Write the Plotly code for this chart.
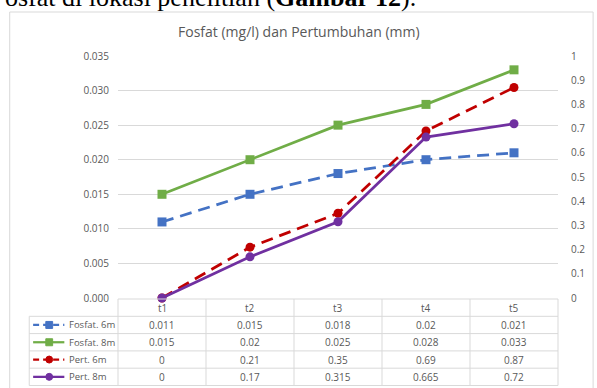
import plotly.graph_objects as go

# ---- data ----
categories = ["t1", "t2", "t3", "t4", "t5"]
fosfat_6m = [0.011, 0.015, 0.018, 0.02, 0.021]
fosfat_8m = [0.015, 0.02, 0.025, 0.028, 0.033]
pert_6m = [0, 0.21, 0.35, 0.69, 0.87]
pert_8m = [0, 0.17, 0.315, 0.665, 0.72]
series_names = ["Fosfat. 6m", "Fosfat. 8m", "Pert. 6m", "Pert. 8m"]
title_text = "Fosfat (mg/l) dan Pertumbuhan (mm)"
doc_text = "osfat di lokasi penelitian (<b>Gambar 12</b>)."

# ---- layout geometry (pixels) ----
W, H = 597, 388
L, R, T, B = 118, 569, 56, 298
def fx(px):
    return (px - L) / (R - L)
def fy(py):
    return (B - py) / (B - T)

BLUE = "#4472C4"
GREEN = "#70AD47"
RED = "#C00000"
PURPLE = "#7030A0"
GREY_TXT = "#595959"
GRID = "#D9D9D9"
FONT = "Open Sans"

fig = go.Figure()
styles = [
    (fosfat_6m, "y", BLUE, "12px,7px", "square"),
    (fosfat_8m, "y", GREEN, "solid", "square"),
    (pert_6m, "y2", RED, "12px,7px", "circle"),
    (pert_8m, "y2", PURPLE, "solid", "circle"),
]
for (vals, ax, col, dash, sym), name in zip(styles, series_names):
    fig.add_trace(go.Scatter(
        x=categories, y=vals, yaxis=ax, name=name, mode="lines+markers",
        line=dict(color=col, width=2.75, dash=dash),
        marker=dict(color=col, size=9, symbol=sym),
        showlegend=False, cliponaxis=False, hoverinfo="skip",
    ))

shapes = []
annotations = []

# chart frame
shapes.append(dict(type="rect", xref="paper", yref="paper",
                   x0=fx(7), x1=fx(605), y0=fy(12), y1=fy(400),
                   line=dict(color=GRID, width=1), layer="below"))

# data table
col_edges = [L + i * (R - L) / len(categories) for i in range(len(categories) + 1)]
row_top = 299
row_h = 17.3
n_rows = len(series_names) + 1
row_lines = [row_top + i * row_h for i in range(n_rows + 1)]
TABLE_LINE = "#D9D9D9"
# horizontal
shapes.append(dict(type="line", xref="paper", yref="paper",
                   x0=fx(L), x1=fx(R), y0=fy(row_lines[0]), y1=fy(row_lines[0]),
                   line=dict(color=TABLE_LINE, width=1)))
for yl in row_lines[1:]:
    shapes.append(dict(type="line", xref="paper", yref="paper",
                       x0=fx(27), x1=fx(R), y0=fy(yl), y1=fy(yl),
                       line=dict(color=TABLE_LINE, width=1)))
# vertical
for xe in col_edges:
    shapes.append(dict(type="line", xref="paper", yref="paper",
                       x0=fx(xe), x1=fx(xe), y0=fy(row_lines[0]), y1=fy(row_lines[-1]),
                       line=dict(color=TABLE_LINE, width=1)))
shapes.append(dict(type="line", xref="paper", yref="paper",
                   x0=fx(27), x1=fx(27), y0=fy(row_lines[1]), y1=fy(row_lines[-1]),
                   line=dict(color=TABLE_LINE, width=1)))

# header
for i, c in enumerate(categories):
    xc = (col_edges[i] + col_edges[i + 1]) / 2
    annotations.append(dict(text=c, xref="paper", yref="paper",
                            x=fx(xc), y=fy((row_lines[0] + row_lines[1]) / 2),
                            xanchor="center", yanchor="middle", showarrow=False,
                            font=dict(family=FONT, size=10, color=GREY_TXT)))
# rows
for r, ((vals, ax, col, dash, sym), name) in enumerate(zip(styles, series_names)):
    yc = (row_lines[r + 1] + row_lines[r + 2]) / 2
    for i, v in enumerate(vals):
        xc = (col_edges[i] + col_edges[i + 1]) / 2
        annotations.append(dict(text="{:g}".format(v), xref="paper", yref="paper",
                                x=fx(xc), y=fy(yc), xanchor="center", yanchor="middle",
                                showarrow=False,
                                font=dict(family=FONT, size=10, color=GREY_TXT)))
    # legend key
    shapes.append(dict(type="line", xref="paper", yref="paper",
                       x0=fx(31), x1=fx(63), y0=fy(yc), y1=fy(yc),
                       line=dict(color=col, width=2.25,
                                 dash="solid" if dash == "solid" else "6px,4px")))
    shapes.append(dict(type="rect" if sym == "square" else "circle",
                       xref="paper", yref="paper",
                       x0=fx(44), x1=fx(51), y0=fy(yc - 3.5), y1=fy(yc + 3.5),
                       line=dict(color=col, width=1), fillcolor=col))
    annotations.append(dict(text=name, xref="paper", yref="paper",
                            x=fx(66), y=fy(yc), xanchor="left", yanchor="middle",
                            showarrow=False,
                            font=dict(family=FONT, size=9.5, color=GREY_TXT)))

# title
annotations.append(dict(text=title_text, xref="paper", yref="paper",
                        x=fx(304), y=fy(31), xanchor="center", yanchor="middle",
                        showarrow=False,
                        font=dict(family=FONT, size=14, color=GREY_TXT)))
# document text (cut off at the top, as in the reference)
annotations.append(dict(text=doc_text, xref="paper", yref="paper",
                        x=fx(0), y=fy(-2), xanchor="left", yanchor="middle",
                        showarrow=False,
                        font=dict(family="Liberation Serif", size=26, color="black")))

fig.update_layout(
    width=W, height=H,
    margin=dict(l=L, r=W - R, t=T, b=H - B, pad=0),
    paper_bgcolor="white", plot_bgcolor="white",
    showlegend=False,
    hovermode=False,
    xaxis=dict(type="category", range=[-0.5, len(categories) - 0.5],
               showgrid=False, showline=False, zeroline=False,
               showticklabels=False, ticks=""),
    yaxis=dict(range=[0, 0.035], dtick=0.005, tickformat=".3f",
               showgrid=True, gridcolor=GRID, gridwidth=1,
               zeroline=False, showline=False, ticks="",
               ticklabelstandoff=8,
               tickfont=dict(family=FONT, size=10, color=GREY_TXT)),
    yaxis2=dict(range=[0, 1], dtick=0.1, overlaying="y", side="right",
                showgrid=False, zeroline=False, showline=False, ticks="",
                ticklabelstandoff=12,
                tickfont=dict(family=FONT, size=10, color=GREY_TXT)),
    shapes=shapes,
    annotations=annotations,
)

fig.write_html(
    "out.html",
    config={"displayModeBar": False},
    post_script="document.body.style.margin='0';document.body.style.overflow='hidden';",
)
